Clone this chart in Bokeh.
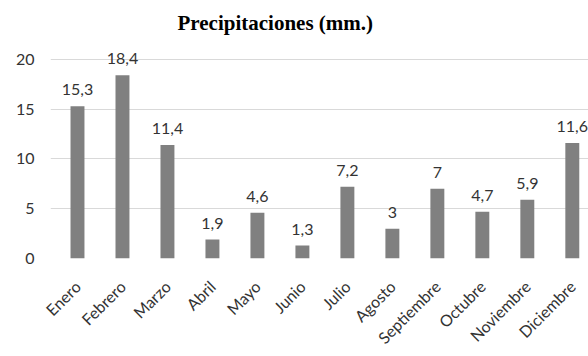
from math import pi

from bokeh.core.properties import value
from bokeh.embed import file_html
from bokeh.models import ColumnDataSource, LabelSet, Range1d, FixedTicker
from bokeh.plotting import figure
from bokeh.resources import INLINE

meses = ["Enero", "Febrero", "Marzo", "Abril", "Mayo", "Junio", "Julio",
         "Agosto", "Septiembre", "Octubre", "Noviembre", "Diciembre"]
precipitacion = [15.3, 18.4, 11.4, 1.9, 4.6, 1.3, 7.2, 3.0, 7.0, 4.7, 5.9, 11.6]
y_ticks = [0, 5, 10, 15, 20]


def etiqueta(v):
    s = f"{v:.1f}".replace(".", ",")
    return s[:-2] if s.endswith(",0") else s


posiciones = list(range(len(meses)))
source = ColumnDataSource(dict(
    x=posiciones,
    valor=precipitacion,
    texto=[etiqueta(v) for v in precipitacion],
))

FONT = "Lato"
TEXT_COLOR = "#333333"

p = figure(
    width=588, height=356,
    x_range=Range1d(-0.6, 11.36),
    y_range=Range1d(0, 22),
    output_backend="svg", toolbar_location=None,
    min_border_left=50, min_border_right=0, min_border_top=39, min_border_bottom=96,
)

p.title.text = "Precipitaciones (mm.)"
p.title.text_font = "Liberation Serif"
p.title.text_font_style = "bold"
p.title.text_font_size = "21px"
p.title.text_color = "#000000"
p.title.align = "left"
p.title.offset = 127
p.title.standoff = 10

p.vbar(x="x", top="valor", width=0.31, source=source,
       fill_color="#808080", line_color=None)

labels = LabelSet(x="x", y="valor", text="texto", source=source,
                  text_align="center", text_baseline="bottom", y_offset=11,
                  text_font=value(FONT), text_font_size=value("16px"),
                  text_color=TEXT_COLOR)
p.add_layout(labels)

p.outline_line_color = None
p.background_fill_color = "white"
p.border_fill_color = "white"

p.xgrid.grid_line_color = None
p.ygrid.grid_line_color = "#d9d9d9"
p.ygrid.grid_line_width = 1

p.yaxis.ticker = FixedTicker(ticks=y_ticks)
p.yaxis.axis_line_color = None
p.yaxis.major_tick_line_color = None
p.yaxis.minor_tick_line_color = None
p.yaxis.major_label_standoff = 10
p.yaxis.major_label_text_font = FONT
p.yaxis.major_label_text_font_size = "16px"
p.yaxis.major_label_text_color = TEXT_COLOR

p.xaxis.ticker = FixedTicker(ticks=posiciones)
p.xaxis.major_label_overrides = {i: m for i, m in zip(posiciones, meses)}
p.xaxis.axis_line_color = None
p.xaxis.major_tick_line_color = None
p.xaxis.minor_tick_line_color = None
p.xaxis.major_label_orientation = pi / 4
p.xaxis.major_label_standoff = 19
p.xaxis.major_label_text_font = FONT
p.xaxis.major_label_text_font_size = "16px"
p.xaxis.major_label_text_color = TEXT_COLOR

open("out.html", "w").write(file_html(p, INLINE))
